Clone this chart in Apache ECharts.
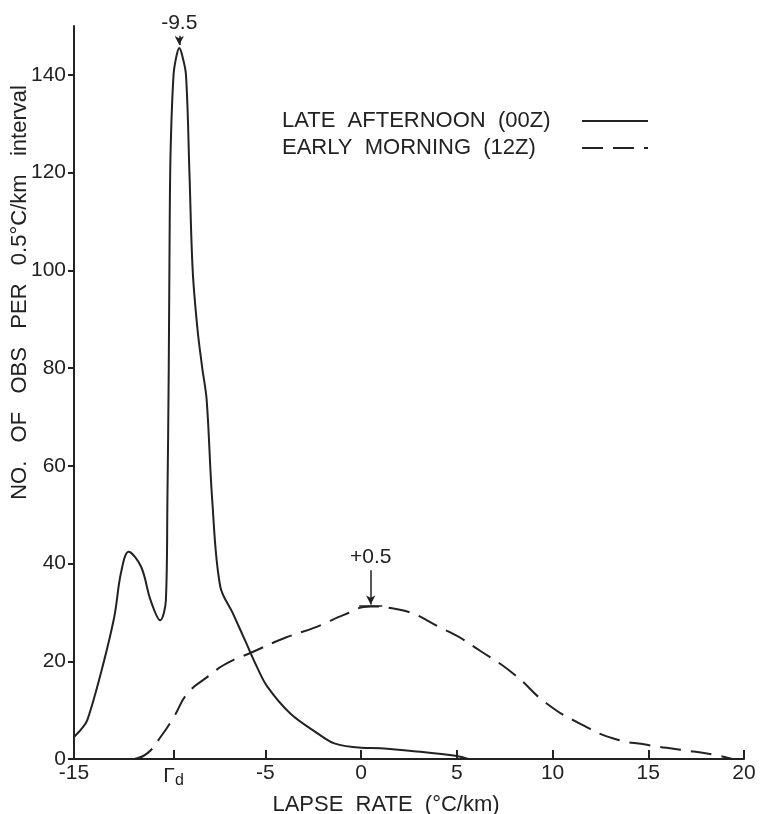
<!DOCTYPE html>
<html>
<head>
<meta charset="utf-8">
<script src="https://cdn.jsdelivr.net/npm/echarts@6/dist/echarts.min.js"></script>
<style>
html,body{margin:0;padding:0;background:#fff;}
#chart{width:761px;height:814px;}
</style>
</head>
<body>
<div id="chart"></div>
<script>
// Late afternoon (00Z) distribution
const afternoonX = [-15, -14.6, -14.3, -13.6, -12.9, -12.55, -12.15, -11.5, -11.0, -10.5,
  -10.2, -10.12, -10.05, -10.0, -9.95, -9.8, -9.65, -9.5, -9.35, -9.15,
  -8.97, -8.8, -8.55, -8.3, -8.07, -7.78, -7.36, -6.7, -6.0, -5.45,
  -4.9, -3.7, -2.3, -1.4, 0, 1, 2.75, 5, 5.6];
const afternoonY = [4.5, 6.2, 8, 17.5, 29, 38, 42.4, 39.4, 32.5, 28.4,
  32.5, 53, 80, 110, 125, 140, 143.8, 145.5, 144, 140,
  120, 100, 88, 80, 73.5, 53, 35.3, 29.8, 23.7, 18.9,
  14.8, 9.3, 5.3, 3.2, 2.3, 2.2, 1.6, 0.6, 0];

// Early morning (12Z) distribution
const morningX = [-11.85, -11.16, -10.46, -9.77, -9.07, -8.03, -7.0, -5.73, -4.03, -2.29,
  -0.9, 0.5, 1.54, 4.49, 6.23, 7.97, 9.71, 11.45, 13.18, 14.93, 16.66, 18.4, 19.4];
const morningY = [0, 1.2, 4.6, 8.7, 13.4, 16.8, 19.6, 21.8, 24.7, 27.1,
  29.5, 31.2, 30.9, 26.2, 22.1, 17.4, 11.3, 7.2, 4.2, 2.9, 1.9, 0.9, 0];

const seriesNames = ['LATE  AFTERNOON  (00Z)', 'EARLY  MORNING  (12Z)'];
const xTickValues = [-15, -9.8, -5, 0, 5, 10, 15, 20];
const yTickValues = [0, 20, 40, 60, 80, 100, 120, 140];
const peakAfternoon = -9.5;
const peakMorning = 0.5;

const FONT = '"Liberation Sans", Arial, sans-serif';
const INK = '#222';

function pairs(xs, ys) { return xs.map((x, i) => [x, ys[i]]); }

const chart = echarts.init(document.getElementById('chart'));
chart.setOption({
  animation: false,
  backgroundColor: '#fff',
  grid: { left: 74, right: 17, top: 26, bottom: 55, containLabel: false, outerBoundsMode: 'none' },
  legend: {
    orient: 'vertical',
    left: 277, top: 105,
    align: 'right',
    itemWidth: 66, itemHeight: 14, itemGap: 5,
    itemStyle: { opacity: 0 },
    data: seriesNames,
    formatter: name => '{t|' + name + '}',
    textStyle: {
      color: INK, fontFamily: FONT, fontSize: 22,
      rich: { t: { width: 295, align: 'left', lineHeight: 25, fontSize: 22, fontFamily: FONT, color: INK } }
    }
  },
  xAxis: {
    type: 'value', min: -15, max: 20,
    name: 'LAPSE  RATE  (°C/km)',
    nameLocation: 'middle', nameGap: 35, nameMoveOverlap: false,
    nameTextStyle: { color: INK, fontFamily: FONT, fontSize: 22, padding: [0, 46, 0, 0] },
    axisLine: { onZero: false, lineStyle: { color: INK, width: 2 } },
    axisTick: { inside: true, length: 9, lineStyle: { color: INK, width: 2 }, customValues: xTickValues },
    axisLabel: {
      color: INK, fontFamily: FONT, fontSize: 21, margin: 4,
      customValues: xTickValues,
      formatter: v => (Math.abs(v + 9.8) < 1e-6 ? '{g|Γ}{d|d}' : String(v)),
      rich: {
        g: { fontFamily: FONT, fontSize: 21, color: INK },
        d: { fontFamily: FONT, fontSize: 16, color: INK, padding: [10, 0, 0, 0] }
      }
    },
    splitLine: { show: false }
  },
  yAxis: {
    type: 'value', min: 0, max: 150,
    name: 'NO.   OF   OBS   PER   0.5°C/km   interval',
    nameLocation: 'middle', nameGap: 43, nameRotate: 90, nameMoveOverlap: false,
    nameTextStyle: { color: INK, fontFamily: FONT, fontSize: 22, padding: [0, 0, 0, 200] },
    axisLine: { onZero: false, lineStyle: { color: INK, width: 2 } },
    axisTick: { inside: false, length: 6, lineStyle: { color: INK, width: 2 }, customValues: yTickValues },
    axisLabel: { color: INK, fontFamily: FONT, fontSize: 21, margin: 8, customValues: yTickValues },
    splitLine: { show: false }
  },
  series: [
    {
      name: seriesNames[0], type: 'line',
      data: pairs(afternoonX, afternoonY),
      smooth: 0.35,
      symbol: 'none', showSymbol: false,
      lineStyle: { color: INK, width: 2 },
      itemStyle: { color: INK },
      markLine: {
        silent: true, symbol: ['none', 'arrow'], symbolSize: [7, 9],
        lineStyle: { color: INK, width: 1.5, type: 'solid' },
        label: { show: true, position: 'start', distance: 2, color: INK, fontFamily: FONT, fontSize: 21, formatter: String(peakAfternoon) },
        data: [[{ coord: [peakAfternoon, 148.0] }, { coord: [peakAfternoon, 146.1] }]]
      }
    },
    {
      name: seriesNames[1], type: 'line',
      data: pairs(morningX, morningY),
      smooth: 0.5,
      symbol: 'none', showSymbol: false,
      lineStyle: { color: INK, width: 2, type: [21, 10] },
      itemStyle: { color: INK },
      markLine: {
        silent: true, symbol: ['none', 'arrow'], symbolSize: [7, 9],
        lineStyle: { color: INK, width: 1.5, type: 'solid' },
        label: { show: true, position: 'start', distance: 3, color: INK, fontFamily: FONT, fontSize: 21, formatter: '+' + peakMorning },
        data: [
          [{ coord: [peakMorning, 38.6] }, { coord: [peakMorning, 31.6] }],
          [{ coord: [peakMorning - 0.6, 31.3], symbol: 'none', label: { show: false } },
           { coord: [peakMorning + 0.6, 31.3], symbol: 'none', label: { show: false } }]
        ]
      }
    }
  ]
});
</script>
</body>
</html>
